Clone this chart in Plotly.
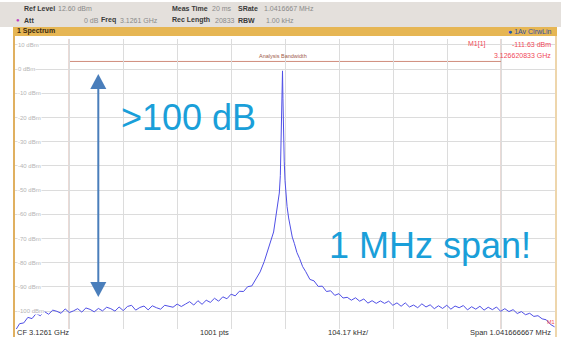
import plotly.graph_objects as go

W, H = 561, 337

# ---------------- data ----------------
freq_khz = [
    -520, -512, -504, -496, -488, -480, -472, -464, -456, -448, -440, -432, -424, -416, -408, -400,
    -392, -384, -376, -368, -360, -352, -344, -336, -328, -320, -312, -304, -296, -288, -280, -272,
    -264, -256, -248, -240, -232, -224, -216, -208, -200, -192, -184, -176, -168, -160, -152, -144,
    -136, -128, -120, -112, -104, -96, -88, -80, -72, -64, -56, -48, -40,
    -34, -28, -22, -18, -14, -11, -9, -7.5, -6.5, -5.5, -4.8, -4, -3, -1.5, 0, 2, 4, 7, 10, 14, 18, 23, 28, 34,
    40, 48, 56, 64, 72, 80, 88, 96, 104, 112, 120, 128, 136, 144, 152, 160, 168, 176, 184, 192, 200,
    208, 216, 224, 232, 240, 248, 256, 264, 272, 280, 288, 296, 304, 312, 320, 328, 336, 344, 352,
    360, 368, 376, 384, 392, 400, 408, 416, 424, 432, 440, 448, 456, 464, 472, 480, 488, 496, 504,
    512, 520,
]
level_dbm = [
    -108.0, -105.2, -104.9, -102.6, -103.1, -101.0, -101.9, -100.2, -101.3, -99.6, -100.1, -100.9,
    -99.1, -100.6, -99.9, -99.0, -100.4, -98.7, -99.3, -100.3, -98.9, -99.9, -98.4, -99.0, -100.0,
    -98.3, -99.8, -98.1, -97.6, -99.6, -98.5, -97.9, -99.5, -97.8, -98.6, -99.2, -97.6, -98.1, -98.4,
    -97.1, -98.1, -97.1, -96.1, -97.5, -95.7, -97.2, -95.5, -96.4, -94.7, -95.9, -94.1, -94.9, -93.0,
    -93.7, -91.8, -91.9, -89.9, -89.6, -86.6, -83.8, -79.5,
    -75.2, -71.6, -67.3, -61.5, -56.4, -51.2, -44.0, -32.0, -21.0, -9.5, -0.7, -12.0, -26.0, -38.0,
    -46.0, -52.3, -56.8, -61.5, -64.7, -69.4, -72.0, -75.8, -78.2, -81.6,
    -83.7, -86.9, -87.5, -89.8, -89.7, -91.9, -91.6, -93.5, -92.8, -94.6, -94.3, -95.5, -94.5, -95.9,
    -95.0, -96.7, -95.7, -96.8, -95.8, -96.8, -95.9, -97.6, -96.6, -98.0, -96.6, -98.3, -97.5, -98.6,
    -97.0, -98.3, -97.4, -99.0, -97.8, -98.9, -97.6, -99.2, -97.9, -98.6, -97.7, -99.5, -98.2, -99.2,
    -98.0, -99.6, -98.4, -99.4, -98.3, -100.1, -99.0, -100.2, -99.4, -101.0, -100.2, -101.5, -100.9,
    -102.2, -101.9, -103.2, -103.6, -105.5, -106.5,
]

ref_level = 12.6
y_bottom = -107.4
span_khz = 1041.666667
div_khz = 104.1667
grid_levels = [10, 0, -10, -20, -30, -40, -50, -60, -70, -80, -90, -100]
grid_labels = ["10 dBm", "0 dBm", "-10 dBm", "-20 dBm", "-30 dBm", "-40 dBm", "-50 dBm",
               "-60 dBm", "-70 dBm", "-80 dBm", "-90 dBm", "-100 dBm"]
abw_khz = 416.67
abw_level = 3.2

# ---------------- layout helpers ----------------
X0, X1 = 15, 555      # plot pixel extents
Y0, Y1 = 38.7, 329    # top, bottom pixel


def px(x):
    return x / W


def py(y):
    return 1 - y / H


fig = go.Figure()
fig.add_trace(go.Scatter(
    x=freq_khz, y=level_dbm, mode="lines",
    line=dict(color="#4f4fe6", width=1), hoverinfo="skip", showlegend=False,
))

FONT = "Liberation Sans, Arial, sans-serif"
ann = []
shapes = []


def txt(x, y, s, size=7, color="#404040", anchor="left", bold=False, bg=None):
    d = dict(x=px(x), y=py(y), xref="paper", yref="paper", text=("<b>%s</b>" % s) if bold else s,
             showarrow=False, xanchor=anchor, yanchor="middle",
             font=dict(family=FONT, size=size, color=color))
    if bg:
        d["bgcolor"] = bg
        d["borderpad"] = 0
    ann.append(d)


# header background
shapes.append(dict(type="rect", xref="paper", yref="paper", x0=0, x1=1, y0=py(27), y1=py(2),
                   fillcolor="#e4e0dc", line=dict(width=0), layer="below"))
shapes.append(dict(type="rect", xref="paper", yref="paper", x0=px(13), x1=px(557), y0=py(36), y1=py(27),
                   fillcolor="#e6b654", line=dict(width=0), layer="below"))
# gold frame sides
shapes.append(dict(type="line", xref="paper", yref="paper", x0=px(14), x1=px(14), y0=0, y1=py(36),
                   line=dict(color="#e0b060", width=2)))
shapes.append(dict(type="line", xref="paper", yref="paper", x0=px(556), x1=px(556), y0=0, y1=py(36),
                   line=dict(color="#e8c890", width=1.5)))

# header texts
lab, val = "#3a3a3a", "#8a8a8a"
txt(22, 8, "Ref Level", 7, lab, bold=True)
txt(56, 8, "12.60 dBm", 7, val)
txt(170, 8, "Meas Time", 7, lab, bold=True)
txt(210, 8, "20 ms", 7, val)
txt(236, 8, "SRate", 7, lab, bold=True)
txt(262, 8, "1.0416667 MHz", 7, val)
txt(14, 20, "●", 6, "#c040c0")
txt(22, 20, "Att", 7, lab, bold=True)
txt(82, 20, "0 dB", 7, val)
txt(99, 20, "Freq", 7, lab, bold=True)
txt(118, 20, "3.1261 GHz", 7, val)
txt(170, 20, "Rec Length", 7, lab, bold=True)
txt(213, 20, "20833", 7, val)
txt(236, 20, "RBW", 7, lab, bold=True)
txt(264, 20, "1.00 kHz", 7, val)
txt(15, 31.5, "1 Spectrum", 7, "#3a2a10", bold=True)
txt(554, 31.5, "<span style='color:#2050c0'>●</span> 1Av ClrwLin", 7, "#3050a0", anchor="right")

# grid labels
for lv, lb in zip(grid_levels, grid_labels):
    ann.append(dict(x=px(17), y=lv, xref="paper", yref="y", text=lb, showarrow=False,
                    xanchor="left", yanchor="middle", bgcolor="white", borderpad=0,
                    font=dict(family=FONT, size=6, color="#b4b4b4")))

# analysis bandwidth box
for xv in (-abw_khz, abw_khz):
    shapes.append(dict(type="line", xref="x", yref="y", x0=xv, x1=xv, y0=y_bottom, y1=ref_level,
                       line=dict(color="#d4b4ac", width=1), layer="below"))
shapes.append(dict(type="line", xref="x", yref="y", x0=-abw_khz, x1=abw_khz, y0=abw_level, y1=abw_level,
                   line=dict(color="#d08c7c", width=1), layer="below"))
ann.append(dict(x=-4.8, y=abw_level, xref="x", yref="y", text="Analysis Bandwidth", showarrow=False,
                xanchor="center", yanchor="bottom", yshift=0,
                font=dict(family=FONT, size=5.5, color="#a05a48")))

# marker info
txt(466, 44, "M1[1]", 7, "#f04858")
txt(553, 44, "-111.63 dBm", 7, "#f04858", anchor="right")
txt(553, 55.5, "3.126620833 GHz", 7, "#f04858", anchor="right")
ann.append(dict(x=freq_khz[-1], y=level_dbm[-1], xref="x", yref="y", text="M1", showarrow=False,
                xanchor="right", yanchor="bottom", xshift=2, font=dict(family=FONT, size=5.5, color="#f04858")))

# bottom labels
txt(15, 332, "CF 3.1261 GHz", 7.5, "#303030")
txt(214, 332, "1001 pts", 7.5, "#303030", anchor="center")
txt(348, 332, "104.17 kHz/", 7.5, "#303030", anchor="center")
txt(553, 332, "Span 1.041666667 MHz", 7.5, "#303030", anchor="right")

# big overlay texts
BLUE = "#1a9fd9"
txt(188, 117, "&gt;100 dB", 36, BLUE, anchor="center")
txt(430, 245, "1 MHz span!", 36, BLUE, anchor="center")

# double-headed arrow
AC = "#4a7ebb"
ax_px, top_px, bot_px, head_h, head_w = 98.3, 74, 297, 15, 8
shapes.append(dict(type="line", xref="paper", yref="paper", x0=px(ax_px), x1=px(ax_px),
                   y0=py(top_px + head_h - 1), y1=py(bot_px - head_h + 1), line=dict(color=AC, width=2)))
shapes.append(dict(type="path", xref="paper", yref="paper",
                   path="M %f %f L %f %f L %f %f Z" % (px(ax_px), py(top_px), px(ax_px - head_w), py(top_px + head_h),
                                                     px(ax_px + head_w), py(top_px + head_h)),
                   fillcolor=AC, line=dict(width=0)))
shapes.append(dict(type="path", xref="paper", yref="paper",
                   path="M %f %f L %f %f L %f %f Z" % (px(ax_px), py(bot_px), px(ax_px - head_w), py(bot_px - head_h),
                                                     px(ax_px + head_w), py(bot_px - head_h)),
                   fillcolor=AC, line=dict(width=0)))

fig.update_layout(
    width=W, height=H, margin=dict(l=0, r=0, t=0, b=0),
    paper_bgcolor="white", plot_bgcolor="white",
    xaxis=dict(domain=[px(X0), px(X1)], range=[-span_khz / 2, span_khz / 2], showticklabels=False,
               ticks="", showgrid=True, gridcolor="#dcdcdc", gridwidth=1, tick0=0, dtick=div_khz,
               zeroline=False, showline=False, fixedrange=True),
    yaxis=dict(domain=[py(Y1), py(Y0)], range=[y_bottom, ref_level], showticklabels=False,
               ticks="", showgrid=True, gridcolor="#dcdcdc", gridwidth=1, tick0=10, dtick=10,
               zeroline=False, showline=False, fixedrange=True),
    annotations=ann, shapes=shapes, showlegend=False,
)

fig.write_html("out.html", config={"displayModeBar": False},
               post_script="document.body.style.margin='0';document.body.style.overflow='hidden';")
